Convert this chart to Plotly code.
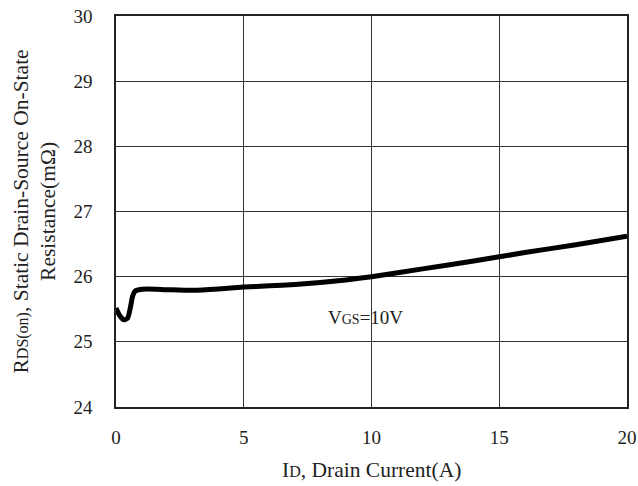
import plotly.graph_objects as go

current_a = [0, 0.15, 0.3, 0.45, 0.55, 0.65, 0.75, 0.9, 1.2, 2, 3, 4, 5, 6, 7, 8, 9, 10, 12, 14, 16, 18, 20]
rds_mohm = [25.52, 25.40, 25.34, 25.36, 25.50, 25.70, 25.78, 25.80, 25.81, 25.80, 25.79, 25.81, 25.84,
            25.86, 25.88, 25.91, 25.95, 26.00, 26.12, 26.24, 26.37, 26.49, 26.62]
x_ticks = [0, 5, 10, 15, 20]
y_ticks = [24, 25, 26, 27, 28, 29, 30]

FONT = "Liberation Serif, Times New Roman, serif"
TXT = "#222"

fig = go.Figure()
fig.add_trace(go.Scatter(x=current_a, y=rds_mohm, mode="lines",
                         line=dict(color="black", width=5, shape="spline", smoothing=0.6),
                         showlegend=False, hoverinfo="skip"))

fig.add_annotation(x=9.75, y=25.38, text="V<span style='font-size:14px'>GS</span>=10V",
                   showarrow=False, font=dict(family=FONT, size=19, color=TXT))

# axis titles
fig.add_annotation(xref="paper", yref="paper", x=0.5, y=0, yshift=-63, yanchor="middle",
                   text="I<span style='font-size:16px'>D</span>, Drain Current(A)",
                   showarrow=False, font=dict(family=FONT, size=21.5, color=TXT))
fig.add_annotation(xref="paper", yref="paper", x=0, xshift=-82, y=0.5, textangle=-90,
                   xanchor="center", yanchor="middle",
                   text="R<span style='font-size:16px'>DS(on)</span>, Static Drain-Source On-State<br>Resistance(mΩ)",
                   showarrow=False, font=dict(family=FONT, size=21.5, color=TXT))

fig.update_layout(
    width=638, height=486,
    margin=dict(l=116, r=11, t=16, b=79),
    paper_bgcolor="white", plot_bgcolor="white",
    font=dict(family=FONT, color=TXT, size=19),
    xaxis=dict(range=[0, 20], tickvals=x_ticks, showgrid=True, gridcolor="#333", gridwidth=1,
               showline=True, linecolor="#222", linewidth=1.5, mirror=True, zeroline=False,
               ticks="", ticklabelstandoff=12, tickfont=dict(size=19), automargin=False),
    yaxis=dict(range=[24, 30], tickvals=y_ticks, showgrid=True, gridcolor="#333", gridwidth=1,
               showline=True, linecolor="#222", linewidth=1.5, mirror=True, zeroline=False,
               ticks="", ticklabelstandoff=18, tickfont=dict(size=19), automargin=False),
)

fig.write_html("out.html", config={"displayModeBar": False},
               post_script="document.body.style.margin='0';")
